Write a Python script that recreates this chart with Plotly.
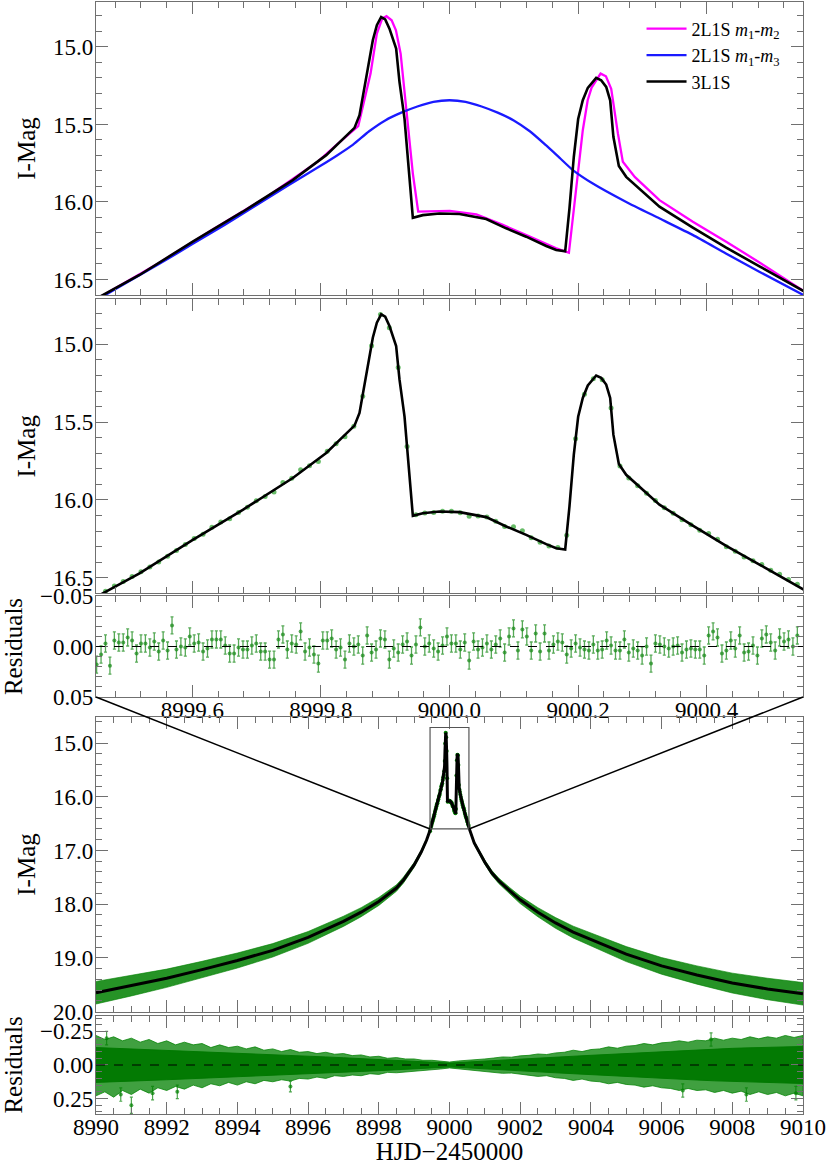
import plotly.graph_objects as go

# ---------------- data ----------------
# 3L1S model (zoom window)
BLACK_T = [8999.450, 8999.4606, 8999.5177, 8999.6006, 8999.6784, 8999.7562, 8999.8082,
           8999.8522, 8999.8600, 8999.8729, 8999.8807, 8999.8870, 8999.8937, 8999.9000,
           8999.9066, 8999.9170, 8999.9222, 8999.9300, 8999.9367, 8999.9430, 8999.9585,
           8999.9844, 9000.0156, 9000.0571, 9000.0882, 9000.1193, 9000.1505, 9000.1660,
           9000.1800, 9000.1867, 9000.1934, 9000.2002, 9000.2074, 9000.2152, 9000.2282,
           9000.2360, 9000.2438, 9000.2500, 9000.2550, 9000.2635, 9000.2749, 9000.3010,
           9000.3267, 9000.3786, 9000.4305, 9000.4823, 9000.5239, 9000.5550]
BLACK_MAG = [16.625, 16.600, 16.471, 16.256, 16.063, 15.859, 15.698,
             15.522, 15.440, 15.140, 14.957, 14.860, 14.807, 14.822,
             14.882, 15.011, 15.225, 15.462, 15.795, 16.102, 16.085,
             16.074, 16.078, 16.110, 16.170, 16.224, 16.284, 16.310,
             16.318, 16.040, 15.710, 15.465, 15.344, 15.264, 15.200,
             15.215, 15.258, 15.344, 15.580, 15.768, 15.838, 15.935,
             16.030, 16.165, 16.295, 16.415, 16.510, 16.585]

# 2L1S m1-m2
MAGENTA_T = [8999.450, 8999.4618, 8999.548, 8999.6304, 8999.7127, 8999.795, 8999.830,
             8999.858, 8999.8772, 8999.887, 8999.8953, 8999.902, 8999.910, 8999.9167,
             8999.924, 8999.933, 8999.943, 8999.9513, 9000.0006, 9000.0418, 9000.083,
             9000.124, 9000.1652, 9000.1858, 9000.192, 9000.200, 9000.2074, 9000.215,
             9000.2211, 9000.2351, 9000.2434, 9000.2516, 9000.254, 9000.262, 9000.2697,
             9000.2886, 9000.3267, 9000.3786, 9000.4305, 9000.4823, 9000.555]
MAGENTA_MAG = [16.625, 16.600, 16.393, 16.180, 15.975, 15.740, 15.610,
               15.511, 15.172, 14.914, 14.817, 14.802, 14.828, 14.893,
               15.043, 15.408, 15.817, 16.062, 16.058, 16.080, 16.148,
               16.222, 16.298, 16.328, 16.096, 15.774, 15.537, 15.344,
               15.262, 15.172, 15.189, 15.270, 15.344, 15.558, 15.741,
               15.840, 15.988, 16.128, 16.257, 16.390, 16.585]

# 2L1S m1-m3
BLUE_T = [8999.45, 8999.50, 8999.55, 8999.60, 8999.65, 8999.70, 8999.75, 8999.80,
          8999.825, 8999.85, 8999.875, 8999.90, 8999.925, 8999.95, 8999.975, 9000.00,
          9000.025, 9000.05, 9000.075, 9000.10, 9000.125, 9000.15, 9000.171, 9000.192,
          9000.223, 9000.275, 9000.327, 9000.379, 9000.430, 9000.482, 9000.555]
BLUE_MAG = [16.635, 16.515, 16.395, 16.272, 16.148, 16.020, 15.890, 15.765,
            15.700, 15.630, 15.544, 15.474, 15.424, 15.384, 15.354, 15.344,
            15.354, 15.384, 15.424, 15.474, 15.544, 15.634, 15.714, 15.794,
            15.881, 16.000, 16.107, 16.214, 16.332, 16.450, 16.610]

# observation epochs inside the zoom window and their residuals
RES_T = [
    8999.4510, 8999.4579, 8999.4648, 8999.4717, 8999.4786, 8999.4855, 8999.4924, 8999.4993, 8999.5062, 8999.5131,
    8999.5200, 8999.5269, 8999.5338, 8999.5407, 8999.5476, 8999.5545, 8999.5614, 8999.5683, 8999.5752, 8999.5821,
    8999.5890, 8999.5959, 8999.6028, 8999.6097, 8999.6166, 8999.6235, 8999.6304, 8999.6373, 8999.6442, 8999.6511,
    8999.6580, 8999.6649, 8999.6718, 8999.6787, 8999.6856, 8999.6925, 8999.6994, 8999.7063, 8999.7132, 8999.7201,
    8999.7270, 8999.7339, 8999.7408, 8999.7477, 8999.7546, 8999.7615, 8999.7684, 8999.7753, 8999.7822, 8999.7891,
    8999.7960, 8999.8029, 8999.8098, 8999.8167, 8999.8236, 8999.8305, 8999.8374, 8999.8443, 8999.8512, 8999.8581,
    8999.8650, 8999.8719, 8999.8788, 8999.8857, 8999.8926, 8999.8995, 8999.9064, 8999.9133, 8999.9202, 8999.9271,
    8999.9340, 8999.9409, 8999.9478, 8999.9547, 8999.9616, 8999.9685, 8999.9754, 8999.9823, 8999.9892, 8999.9961,
    9000.0030, 9000.0099, 9000.0168, 9000.0237, 9000.0306, 9000.0375, 9000.0444, 9000.0513, 9000.0582, 9000.0651,
    9000.0720, 9000.0789, 9000.0858, 9000.0927, 9000.0996, 9000.1065, 9000.1134, 9000.1203, 9000.1272, 9000.1341,
    9000.1410, 9000.1479, 9000.1548, 9000.1617, 9000.1686, 9000.1755, 9000.1824, 9000.1893, 9000.1962, 9000.2031,
    9000.2100, 9000.2169, 9000.2238, 9000.2307, 9000.2376, 9000.2445, 9000.2514, 9000.2583, 9000.2652, 9000.2721,
    9000.2790, 9000.2859, 9000.2928, 9000.2997, 9000.3066, 9000.3135, 9000.3204, 9000.3273, 9000.3342, 9000.3411,
    9000.3480, 9000.3549, 9000.3618, 9000.3687, 9000.3756, 9000.3825, 9000.3894, 9000.3963, 9000.4032, 9000.4101,
    9000.4170, 9000.4239, 9000.4308, 9000.4377, 9000.4446, 9000.4515, 9000.4584, 9000.4653, 9000.4722, 9000.4791,
    9000.4860, 9000.4929, 9000.4998, 9000.5067, 9000.5136, 9000.5205, 9000.5274, 9000.5343, 9000.5412]
RES = [
    0.018, 0.008, -0.003, 0.019, -0.006, -0.004, -0.004, -0.009, -0.006, 0.007,
    -0.003, -0.003, 0.001, -0.005, 0.005, -0.006, 0.004, -0.021, 0.003, 0.000,
    0.001, -0.010, -0.003, -0.004, 0.005, 0.002, -0.007, -0.007, -0.007, -0.001,
    0.007, 0.007, 0.001, 0.003, 0.003, -0.001, -0.003, 0.005, 0.005, 0.013,
    0.013, -0.007, -0.012, 0.003, -0.003, -0.002, -0.015, 0.005, 0.001, 0.008,
    0.017, -0.006, -0.006, -0.008, 0.003, 0.001, 0.013, -0.003, 0.000, -0.002,
    0.009, -0.011, 0.006, 0.003, -0.008, -0.007, 0.013, 0.002, 0.006, -0.002,
    -0.005, 0.009, -0.002, -0.019, 0.000, -0.003, 0.002, 0.005, -0.001, -0.010,
    -0.003, -0.003, 0.003, -0.004, 0.014, -0.005, 0.003, 0.001, -0.003, 0.003,
    -0.002, -0.008, 0.006, -0.010, -0.018, 0.004, -0.017, -0.010, 0.004, -0.013,
    0.005, -0.013, 0.004, -0.002, -0.005, -0.004, 0.008, 0.002, -0.003, 0.001,
    0.003, 0.004, -0.002, 0.004, 0.003, -0.006, -0.001, 0.004, 0.004, -0.007,
    0.006, 0.002, 0.004, 0.009, 0.000, 0.017, -0.003, -0.002, 0.000, 0.002,
    0.000, -0.001, 0.006, 0.003, 0.002, 0.003, 0.003, 0.009, -0.011, -0.015,
    -0.009, 0.007, 0.004, -0.006, 0.002, -0.011, 0.006, 0.005, -0.001, 0.009,
    -0.008, -0.012, -0.004, 0.004, -0.009, -0.005, -0.007, 0.000, -0.011]

# observed magnitudes (every second epoch) in the zoom window
OBS_T = RES_T[::2]
OBS_MAG = [
    16.641, 16.587, 16.553, 16.524, 16.491, 16.462, 16.430, 16.398, 16.362, 16.325,
    16.286, 16.248, 16.221, 16.175, 16.141, 16.121, 16.080, 16.047, 16.005, 15.977,
    15.949, 15.887, 15.861, 15.806, 15.780, 15.753, 15.686, 15.639, 15.594, 15.526,
    15.333, 15.008, 14.808, 14.893, 15.149, 15.656, 16.095, 16.084, 16.080, 16.073,
    16.073, 16.082, 16.104, 16.103, 16.109, 16.137, 16.171, 16.172, 16.197, 16.243,
    16.271, 16.295, 16.306, 16.226, 15.606, 15.320, 15.220, 15.227, 15.409, 15.782,
    15.859, 15.909, 15.956, 16.004, 16.050, 16.085, 16.127, 16.159, 16.195, 16.216,
    16.252, 16.300, 16.330, 16.366, 16.391, 16.415, 16.451, 16.477, 16.511, 16.541]

# full light curve: model wings and the spread of the data around them
WING_L_T = [8990, 8991, 8992, 8993, 8994, 8995, 8996, 8997, 8997.5, 8998, 8998.5,
            8998.7, 8999.0, 8999.2, 8999.35]
WING_L_MAG = [19.65, 19.52, 19.38, 19.22, 19.05, 18.86, 18.62, 18.32, 18.15, 17.95, 17.70,
              17.55, 17.27, 17.03, 16.81]
WING_L_HALF = [0.21, 0.19, 0.17, 0.155, 0.14, 0.125, 0.11, 0.095, 0.085, 0.075, 0.06,
               0.055, 0.045, 0.035, 0.03]
WING_R_T = [9000.7, 9001.0, 9001.2, 9001.4, 9001.7, 9002.0, 9002.5, 9003.0, 9003.5,
            9004.0, 9005.0, 9006.0, 9007.0, 9008.0, 9009.0, 9010.0]
WING_R_MAG = [16.86, 17.22, 17.42, 17.57, 17.75, 17.92, 18.15, 18.35, 18.52,
              18.66, 18.93, 19.15, 19.32, 19.47, 19.58, 19.67]
WING_R_HALF = [0.03, 0.04, 0.045, 0.05, 0.06, 0.07, 0.085, 0.10, 0.11,
               0.12, 0.14, 0.155, 0.17, 0.185, 0.20, 0.21]

# residual cloud of the full light curve: outer edges (error-bar tips) and dense core
GRID_Q = [
    8990.0, 8990.25, 8990.5, 8990.75, 8991.0, 8991.25, 8991.5, 8991.75,
    8992.0, 8992.25, 8992.5, 8992.75, 8993.0, 8993.25, 8993.5, 8993.75,
    8994.0, 8994.25, 8994.5, 8994.75, 8995.0, 8995.25, 8995.5, 8995.75,
    8996.0, 8996.25, 8996.5, 8996.75, 8997.0, 8997.25, 8997.5, 8997.75,
    8998.0, 8998.25, 8998.5, 8998.75, 8999.0, 8999.25, 8999.5, 8999.75,
    9000.0, 9000.25, 9000.5, 9000.75, 9001.0, 9001.25, 9001.5, 9001.75,
    9002.0, 9002.25, 9002.5, 9002.75, 9003.0, 9003.25, 9003.5, 9003.75,
    9004.0, 9004.25, 9004.5, 9004.75, 9005.0, 9005.25, 9005.5, 9005.75,
    9006.0, 9006.25, 9006.5, 9006.75, 9007.0, 9007.25, 9007.5, 9007.75,
    9008.0, 9008.25, 9008.5, 9008.75, 9009.0, 9009.25, 9009.5, 9009.75,
    9010.0]
OUT_HI = [
    -0.22, -0.19, -0.21, -0.18, -0.20, -0.17, -0.19, -0.16,
    -0.18, -0.15, -0.17, -0.15, -0.16, -0.13, -0.15, -0.13,
    -0.14, -0.12, -0.135, -0.11, -0.12, -0.10, -0.115, -0.095,
    -0.10, -0.085, -0.095, -0.08, -0.085, -0.07, -0.075, -0.06,
    -0.065, -0.05, -0.055, -0.045, -0.045, -0.035, -0.035, -0.028,
    -0.022, -0.03, -0.034, -0.04, -0.045, -0.052, -0.06, -0.058,
    -0.068, -0.072, -0.082, -0.078, -0.09, -0.095, -0.11, -0.10,
    -0.115, -0.12, -0.135, -0.125, -0.14, -0.145, -0.16, -0.15,
    -0.165, -0.17, -0.18, -0.17, -0.185, -0.18, -0.20, -0.185,
    -0.20, -0.19, -0.21, -0.195, -0.21, -0.20, -0.22, -0.205,
    -0.22]
OUT_LO = [
    0.23, 0.20, 0.24, 0.19, 0.22, 0.18, 0.21, 0.17,
    0.19, 0.16, 0.18, 0.15, 0.17, 0.14, 0.155, 0.13,
    0.15, 0.125, 0.14, 0.115, 0.125, 0.11, 0.12, 0.10,
    0.105, 0.09, 0.10, 0.08, 0.085, 0.075, 0.08, 0.065,
    0.07, 0.055, 0.058, 0.048, 0.045, 0.038, 0.035, 0.03,
    0.022, 0.03, 0.036, 0.042, 0.048, 0.055, 0.062, 0.06,
    0.07, 0.075, 0.085, 0.08, 0.095, 0.10, 0.115, 0.105,
    0.12, 0.125, 0.14, 0.13, 0.145, 0.15, 0.165, 0.155,
    0.17, 0.175, 0.19, 0.175, 0.19, 0.185, 0.205, 0.19,
    0.21, 0.195, 0.22, 0.20, 0.22, 0.205, 0.23, 0.21,
    0.23]
GRID_H = [
    8990.0, 8990.5, 8991.0, 8991.5, 8992.0, 8992.5, 8993.0, 8993.5, 8994.0, 8994.5,
    8995.0, 8995.5, 8996.0, 8996.5, 8997.0, 8997.5, 8998.0, 8998.5, 8999.0, 8999.5,
    9000.0, 9000.5, 9001.0, 9001.5, 9002.0, 9002.5, 9003.0, 9003.5, 9004.0, 9004.5,
    9005.0, 9005.5, 9006.0, 9006.5, 9007.0, 9007.5, 9008.0, 9008.5, 9009.0, 9009.5,
    9010.0]
CORE = [
    0.13, 0.125, 0.12, 0.115, 0.11, 0.105, 0.10, 0.095, 0.09, 0.085,
    0.078, 0.072, 0.066, 0.06, 0.054, 0.048, 0.042, 0.036, 0.03, 0.022,
    0.014, 0.022, 0.03, 0.037, 0.044, 0.051, 0.058, 0.065, 0.072, 0.079,
    0.086, 0.093, 0.10, 0.106, 0.112, 0.118, 0.124, 0.128, 0.132, 0.135,
    0.138]
# a few isolated outlying residuals
OUTL_T = [8990.3, 8990.7, 8991.0, 8991.6, 8992.3, 8995.5, 9006.6, 9007.4, 9008.4, 9009.8]
OUTL_R = [-0.20, 0.22, 0.30, 0.21, 0.20, 0.16, 0.19, -0.19, 0.22, 0.21]
OUTL_E = [0.05, 0.05, 0.06, 0.05, 0.05, 0.04, 0.05, 0.05, 0.05, 0.05]

# ---------------- layout constants ----------------
FONT = "Liberation Serif, Times New Roman, serif"
X_DOM = [0.1155, 0.9663]
D1 = [0.7468, 0.9983]
D2 = [0.4907, 0.7431]
D3 = [0.4017, 0.4884]
D4 = [0.1316, 0.3843]
D5 = [0.0438, 0.1279]
ZOOM_X = [8999.45, 9000.55]
ZOOM_Y = [16.60, 14.71]
WIDE_X = [8989.999, 9010.001]
WIDE_Y = [20.003, 14.52]
RES_ZOOM_Y = [0.0502, -0.0502]
RES_WIDE_Y = [0.365, -0.365]

AX = "#707070"
GREEN = "#008000"


def frame(**kw):
    d = dict(showline=True, linecolor=AX, linewidth=1.3, mirror="allticks",
             ticks="inside", ticklen=12, tickwidth=1.2, tickcolor=AX,
             showgrid=False, zeroline=False, automargin=False,
             tickfont=dict(family=FONT, size=23, color="black"))
    d.update(kw)
    return d


def px(v, dom, rng):
    return dom[0] + (v - rng[0]) / (rng[1] - rng[0]) * (dom[1] - dom[0])


fig = go.Figure()

# panel 1: model comparison
fig.add_trace(go.Scatter(x=MAGENTA_T, y=MAGENTA_MAG, mode="lines", xaxis="x", yaxis="y",
                         line=dict(color="#ff00ff", width=2.3),
                         name="2L1S <i>m</i><sub>1</sub>-<i>m</i><sub>2</sub>"))
fig.add_trace(go.Scatter(x=BLUE_T, y=BLUE_MAG, mode="lines", xaxis="x", yaxis="y",
                         line=dict(color="#1a1aff", width=2.3, shape="spline", smoothing=0.6),
                         name="2L1S <i>m</i><sub>1</sub>-<i>m</i><sub>3</sub>"))
fig.add_trace(go.Scatter(x=BLACK_T, y=BLACK_MAG, mode="lines", xaxis="x", yaxis="y",
                         line=dict(color="black", width=2.6), name="3L1S"))

# panel 2: data + best model in the zoom window
fig.add_trace(go.Scatter(x=OBS_T, y=OBS_MAG, mode="markers", xaxis="x2", yaxis="y2",
                         marker=dict(color="rgba(40,160,40,0.7)", size=5),
                         showlegend=False))
fig.add_trace(go.Scatter(x=BLACK_T, y=BLACK_MAG, mode="lines", xaxis="x2", yaxis="y2",
                         line=dict(color="black", width=2.6), showlegend=False))

# panel 3: residuals in the zoom window
fig.add_trace(go.Scatter(x=RES_T, y=RES, mode="markers", xaxis="x3", yaxis="y3",
                         marker=dict(color="rgba(30,140,30,0.75)", size=4),
                         error_y=dict(type="constant", value=0.0085, thickness=1.3,
                                      width=1.5, color="rgba(30,140,30,0.75)"),
                         showlegend=False))

# panel 4: full light curve
for t, m, h in ((WING_L_T, WING_L_MAG, WING_L_HALF), (WING_R_T, WING_R_MAG, WING_R_HALF)):
    upper = [a - b for a, b in zip(m, h)]
    lower = [a + b for a, b in zip(m, h)]
    fig.add_trace(go.Scatter(x=t + t[::-1], y=upper + lower[::-1], mode="lines",
                             fill="toself", fillcolor="rgba(0,128,0,0.85)",
                             line=dict(color="rgba(0,128,0,0.6)", width=1),
                             xaxis="x4", yaxis="y4", showlegend=False))
fig.add_trace(go.Scatter(x=OBS_T, y=OBS_MAG, mode="markers", xaxis="x4", yaxis="y4",
                         marker=dict(color=GREEN, size=4), showlegend=False))
fig.add_trace(go.Scatter(x=WING_L_T + BLACK_T + WING_R_T,
                         y=WING_L_MAG + BLACK_MAG + WING_R_MAG,
                         mode="lines", xaxis="x4", yaxis="y4",
                         line=dict(color="black", width=3), showlegend=False))

# panel 5: residuals of the full light curve
fig.add_trace(go.Scatter(x=GRID_Q + GRID_Q[::-1], y=OUT_HI + OUT_LO[::-1], mode="lines",
                         fill="toself", fillcolor="rgba(0,128,0,0.75)",
                         line=dict(color="rgba(0,128,0,0.75)", width=1),
                         xaxis="x5", yaxis="y5", showlegend=False))
fig.add_trace(go.Scatter(x=GRID_H + GRID_H[::-1], y=[-c for c in CORE] + CORE[::-1],
                         mode="lines", fill="toself", fillcolor="rgba(0,120,0,0.95)",
                         line=dict(color="rgba(0,120,0,0.95)", width=1),
                         xaxis="x5", yaxis="y5", showlegend=False))
fig.add_trace(go.Scatter(x=OUTL_T, y=OUTL_R, mode="markers", xaxis="x5", yaxis="y5",
                         marker=dict(color="rgba(0,128,0,0.7)", size=4),
                         error_y=dict(type="data", array=OUTL_E, thickness=1.2, width=1.5,
                                      color="rgba(0,128,0,0.7)"),
                         showlegend=False))

title_font = dict(family=FONT, size=25, color="black")
minor_zoom_x = dict(dtick=0.04, tick0=9000, ticklen=6, ticks="inside", tickcolor=AX)
minor_wide_x = dict(dtick=0.5, tick0=8990, ticklen=6, ticks="inside", tickcolor=AX)

fig.update_layout(
    template="none",
    width=831, height=1165,
    margin=dict(l=0, r=0, t=0, b=0, pad=0),
    paper_bgcolor="white", plot_bgcolor="white",
    font=dict(family=FONT, color="black"),
    showlegend=True,
    legend=dict(x=0.772, y=0.991, xanchor="left", yanchor="top",
                bgcolor="rgba(0,0,0,0)", font=dict(family=FONT, size=18),
                itemwidth=40, tracegroupgap=0),
    xaxis=frame(domain=X_DOM, range=ZOOM_X, anchor="y", showticklabels=False,
                dtick=0.2, tick0=9000, minor=minor_zoom_x),
    yaxis=frame(domain=D1, range=ZOOM_Y, anchor="x", dtick=0.5, tick0=15, tickformat=".1f",
                ticklabelstandoff=-3,
                minor=dict(dtick=0.1, tick0=15, ticklen=6, ticks="inside", tickcolor=AX),
                title=dict(text="I-Mag", font=title_font, standoff=10)),
    xaxis2=frame(domain=X_DOM, range=ZOOM_X, anchor="y2", showticklabels=False,
                 dtick=0.2, tick0=9000, minor=minor_zoom_x),
    yaxis2=frame(domain=D2, range=ZOOM_Y, anchor="x2", dtick=0.5, tick0=15, tickformat=".1f",
                 ticklabelstandoff=-3,
                 minor=dict(dtick=0.1, tick0=15, ticklen=6, ticks="inside", tickcolor=AX),
                 title=dict(text="I-Mag", font=title_font, standoff=10)),
    xaxis3=frame(domain=X_DOM, range=ZOOM_X, anchor="y3", dtick=0.2, tick0=9000,
                 tickformat=".1f", minor=minor_zoom_x, ticklabelstandoff=-8),
    yaxis3=frame(domain=D3, range=RES_ZOOM_Y, anchor="x3", tickmode="array",
                 tickvals=[-0.05, 0, 0.05], ticktext=["\u22120.05", "0.00", "0.05"],
                 ticklabelstandoff=-3,
                 minor=dict(dtick=0.01, tick0=0, ticklen=6, ticks="inside", tickcolor=AX),
                 title=dict(text="Residuals", font=title_font, standoff=10)),
    xaxis4=frame(domain=X_DOM, range=WIDE_X, anchor="y4", showticklabels=False,
                 dtick=2, tick0=8990, minor=minor_wide_x),
    yaxis4=frame(domain=D4, range=WIDE_Y, anchor="x4", dtick=1, tick0=15, tickformat=".1f",
                 ticklabelstandoff=-3,
                 minor=dict(dtick=0.2, tick0=15, ticklen=6, ticks="inside", tickcolor=AX),
                 title=dict(text="I-Mag", font=title_font, standoff=10)),
    xaxis5=frame(domain=X_DOM, range=WIDE_X, anchor="y5", dtick=2, tick0=8990,
                 tickformat="d", minor=minor_wide_x, ticklabelstandoff=-8,
                 title=dict(text="HJD\u22122450000", font=title_font, standoff=4)),
    yaxis5=frame(domain=D5, range=RES_WIDE_Y, anchor="x5", tickmode="array",
                 tickvals=[-0.25, 0, 0.25], ticktext=["\u22120.25", "0.00", "0.25"],
                 ticklabelstandoff=-3,
                 minor=dict(dtick=0.05, tick0=0, ticklen=6, ticks="inside", tickcolor=AX),
                 title=dict(text="Residuals", font=title_font, standoff=10)),
)

# zero lines in the residual panels
for ax in ("3", "5"):
    fig.add_shape(type="line", xref=f"x{ax} domain", yref=f"y{ax}", x0=0, x1=1, y0=0, y1=0,
                  line=dict(color="black", width=1.2, dash="dash"))

# zoom box on the full light curve and the connectors to the zoomed panels
fig.add_shape(type="rect", xref="x4", yref="y4", x0=ZOOM_X[0], x1=ZOOM_X[1],
              y0=ZOOM_Y[0], y1=ZOOM_Y[1], line=dict(color="#555555", width=1.2))
bx0 = px(ZOOM_X[0], X_DOM, WIDE_X)
bx1 = px(ZOOM_X[1], X_DOM, WIDE_X)
by = px(ZOOM_Y[0], D4, WIDE_Y)
fig.add_shape(type="line", xref="paper", yref="paper", x0=X_DOM[0], y0=D3[0], x1=bx0, y1=by,
              line=dict(color="black", width=1.5))
fig.add_shape(type="line", xref="paper", yref="paper", x0=X_DOM[1], y0=D3[0], x1=bx1, y1=by,
              line=dict(color="black", width=1.5))

# the page's default body margin would push the fixed-size figure off the window
fig.write_html("out.html", config={"displayModeBar": False},
               post_script="document.body.style.margin = '0px';")
